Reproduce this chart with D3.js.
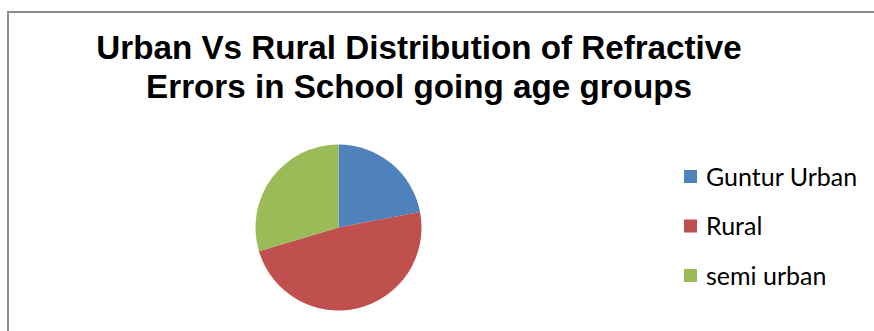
<!DOCTYPE html>
<html>
<head>
<meta charset="utf-8">
<script src="https://cdn.jsdelivr.net/npm/d3@7/dist/d3.min.js"></script>
<style>
html,body{margin:0;padding:0;background:#fff;}
svg{display:block;}
</style>
</head>
<body>
<svg id="chart" width="874" height="331"></svg>
<script>
const titleLines = ["Urban Vs Rural Distribution of Refractive", "Errors in School going age groups"];
const categories = ["Guntur Urban", "Rural", "semi urban"];
const values = [22, 48.4, 29.6];
const colors = ["#4F81BD", "#C0504D", "#9BBB59"];

const svg = d3.select("#chart");

// chart area border (top and left visible)
svg.append("path")
  .attr("d", "M8,331 L8,12 L874,12")
  .attr("fill", "none")
  .attr("stroke", "#8c8c8c")
  .attr("stroke-width", 2);

// title
const title = svg.append("text")
  .attr("text-anchor", "middle")
  .attr("font-family", "'Liberation Sans', Arial, sans-serif")
  .attr("font-weight", "bold")
  .attr("font-size", 33.2)
  .attr("fill", "#000");
titleLines.forEach((t, i) => {
  title.append("tspan").attr("x", 419).attr("y", 59 + i * 39).text(t);
});

// pie
const data = categories.map((c, i) => ({ name: c, value: values[i] }));
const pie = d3.pie().value(d => d.value).sort(null);
const arc = d3.arc().innerRadius(0).outerRadius(83);
const color = d3.scaleOrdinal().domain(categories).range(colors);

svg.append("g")
  .attr("transform", "translate(338.5,227.5)")
  .selectAll("path")
  .data(pie(data))
  .join("path")
  .attr("d", arc)
  .attr("fill", d => color(d.data.name));

// legend
const legend = svg.append("g").attr("transform", "translate(684,170)");
const item = legend.selectAll("g")
  .data(categories)
  .join("g")
  .attr("transform", (d, i) => `translate(0,${i * 49.5})`);
item.append("rect")
  .attr("x", 0).attr("y", 0)
  .attr("width", 13).attr("height", 13)
  .attr("fill", d => color(d));
item.append("text")
  .attr("x", 22).attr("y", 15.5)
  .attr("font-family", "Lato, 'Open Sans', sans-serif")
  .attr("font-size", 25)
  .attr("fill", "#000")
  .text(d => d);
</script>
</body>
</html>
